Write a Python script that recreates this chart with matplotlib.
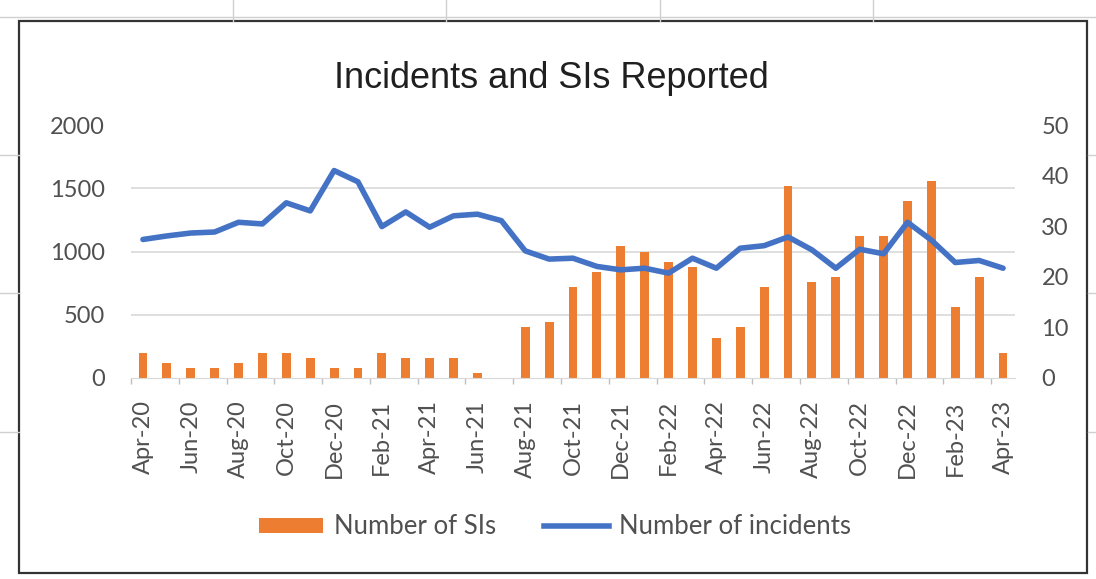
import matplotlib.pyplot as plt
from matplotlib.lines import Line2D
from matplotlib.patches import Rectangle, Patch
from matplotlib.ticker import MultipleLocator, FixedLocator

months = ["Apr-20", "May-20", "Jun-20", "Jul-20", "Aug-20", "Sep-20", "Oct-20", "Nov-20",
          "Dec-20", "Jan-21", "Feb-21", "Mar-21", "Apr-21", "May-21", "Jun-21", "Jul-21",
          "Aug-21", "Sep-21", "Oct-21", "Nov-21", "Dec-21", "Jan-22", "Feb-22", "Mar-22",
          "Apr-22", "May-22", "Jun-22", "Jul-22", "Aug-22", "Sep-22", "Oct-22", "Nov-22",
          "Dec-22", "Jan-23", "Feb-23", "Mar-23", "Apr-23"]

sis = [5, 3, 2, 2, 3, 5, 5, 4, 2, 2, 5, 4, 4, 4, 1, 0,
       10, 11, 18, 21, 26, 25, 23, 22, 8, 10, 18, 38, 19, 20, 28, 28,
       35, 39, 14, 20, 5]

incidents = [1095, 1123, 1146, 1154, 1231, 1218, 1385, 1321, 1640, 1551, 1197, 1313,
             1192, 1282, 1295, 1244, 1005, 940, 947, 882, 855, 868, 829, 947,
             868, 1026, 1046, 1115, 1013, 868, 1018, 982, 1231, 1090, 913, 929, 868]

W, H = 1096, 579
plt.rcParams["font.family"] = ["Lato", "DejaVu Sans"]
txt = "#505050"

fig = plt.figure(figsize=(W / 100, H / 100), dpi=100)

# spreadsheet cell lines around the chart
cell = "#d0d0d0"
for cx in [233, 446, 660, 873]:
    fig.add_artist(Line2D([cx / W, cx / W], [1, 1 - 21 / H], color=cell, lw=1))
for ry in [155, 293, 432]:
    fig.add_artist(Line2D([0, 19 / W], [1 - ry / H, 1 - ry / H], color=cell, lw=1))
    fig.add_artist(Line2D([1088 / W, 1], [1 - ry / H, 1 - ry / H], color=cell, lw=1))
fig.add_artist(Line2D([0, 1], [1 - 17 / H, 1 - 17 / H], color=cell, lw=1))

# chart border
fig.add_artist(Rectangle((19 / W, 1 - 573 / H), (1087 - 19) / W, (573 - 21) / H,
                         transform=fig.transFigure, fill=False, ec="#333333", lw=1.6))

ax = fig.add_axes([131 / W, 1 - 378 / H, (1015 - 131) / W, 253 / H])
ax2 = ax.twinx()
ax.set_zorder(2)
ax2.set_zorder(1)
ax.patch.set_visible(False)

x = list(range(len(months)))

ax2.bar(x, sis, width=0.37, color="#ED7D31", zorder=3)
ax.plot(x, incidents, color="#4472C4", lw=4, solid_capstyle="round",
        solid_joinstyle="round")

ax.set_xlim(-0.5, len(months) - 0.5)
ax.set_ylim(0, 2000)
ax2.set_ylim(0, 50)
ax.set_yticks([0, 500, 1000, 1500, 2000])
ax2.set_yticks([0, 10, 20, 30, 40, 50])

# horizontal gridlines follow the left axis, drawn behind the bars
ax2.yaxis.set_minor_locator(MultipleLocator(12.5))
ax2.grid(which="minor", axis="y", color="#d9d9d9", lw=1.2, zorder=0)
ax2.tick_params(axis="y", which="minor", length=0)

ax.set_xticks(x[::2])
ax.set_xticklabels(months[::2], rotation=90)
ax.xaxis.set_minor_locator(FixedLocator([i - 0.5 for i in range(0, len(months) + 1, 2)]))
ax.tick_params(axis="x", which="major", length=0, pad=16, labelsize=17, labelcolor=txt)
ax.tick_params(axis="x", which="minor", length=4, color="#bfbfbf", width=1)
ax.tick_params(axis="y", length=0, pad=19, labelsize=17, labelcolor=txt)
ax2.tick_params(axis="y", which="major", length=0, pad=19, labelsize=17, labelcolor=txt)
ax2.tick_params(axis="x", which="both", length=0)

for a in (ax, ax2):
    for s in a.spines.values():
        s.set_visible(False)
ax.spines["bottom"].set_visible(True)
ax.spines["bottom"].set_color("#d9d9d9")

fig.text(551 / W, 1 - 88 / H, "Incidents and SIs Reported", ha="center", va="baseline",
         fontsize=26, color="#1f1f1f", family=["Liberation Sans", "DejaVu Sans"])

handles = [Patch(facecolor="#ED7D31", edgecolor="none"),
           Line2D([0], [0], color="#4472C4", lw=4)]
fig.legend(handles, ["Number of SIs", "Number of incidents"], loc="center",
           bbox_to_anchor=(555 / W, 1 - 527 / H), ncol=2, frameon=False,
           fontsize=18.5, labelcolor=txt, handlelength=2.5, handleheight=0.55,
           handletextpad=0.4, columnspacing=1.9)

fig.savefig("out.png", dpi=100)
